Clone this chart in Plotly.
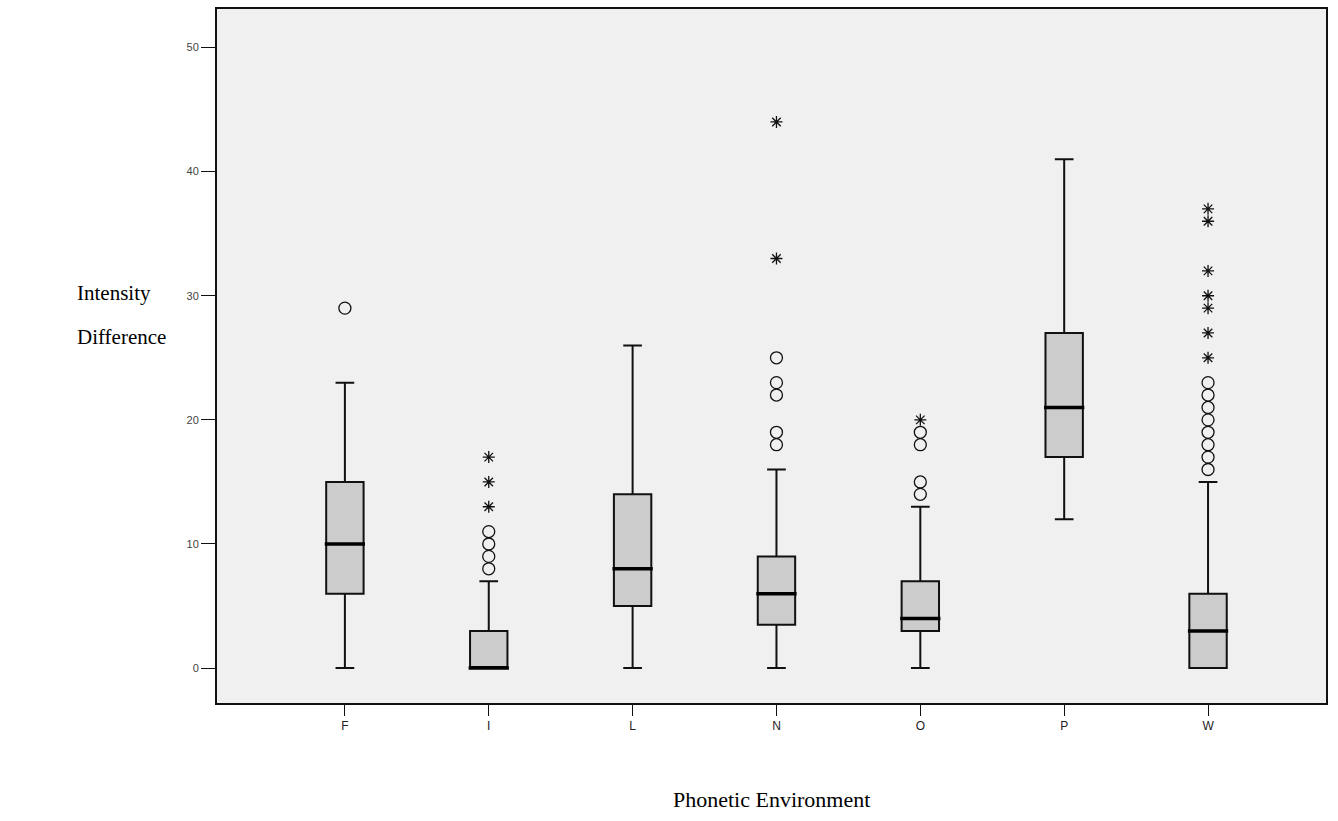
import plotly.graph_objects as go

categories = ["F", "I", "L", "N", "O", "P", "W"]
q1 = [6, 0, 5, 3.5, 3, 17, 0]
medians = [10, 0, 8, 6, 4, 21, 3]
q3 = [15, 3, 14, 9, 7, 27, 6]
lower_whisker = [0, 0, 0, 0, 0, 12, 0]
upper_whisker = [23, 7, 26, 16, 13, 41, 15]

# outliers (circles = mild, stars = extreme)
circle_F = [29]
circle_I = [8, 9, 10, 11]
circle_N = [18, 19, 22, 23, 25]
circle_O = [14, 15, 18, 19]
circle_W = [16, 17, 18, 19, 20, 21, 22, 23]
star_I = [13, 15, 17]
star_N = [33, 44]
star_O = [20]
star_W = [25, 27, 29, 30, 32, 36, 37]

y_ticks = [0, 10, 20, 30, 40, 50]

circles = [("F", circle_F), ("I", circle_I), ("N", circle_N), ("O", circle_O), ("W", circle_W)]
stars = [("I", star_I), ("N", star_N), ("O", star_O), ("W", star_W)]

BOX_W = 0.26

fig = go.Figure()
fig.add_trace(go.Box(
    x=categories, q1=q1, median=medians, q3=q3,
    lowerfence=lower_whisker, upperfence=upper_whisker,
    width=BOX_W, whiskerwidth=0.5,
    fillcolor="#cccccc", line=dict(color="#111111", width=2),
    boxpoints=False, showlegend=False, hoverinfo="skip",
))
# thicker median line
fig.add_trace(go.Box(
    x=categories, q1=medians, median=medians, q3=medians,
    lowerfence=medians, upperfence=medians,
    width=BOX_W + 0.02, whiskerwidth=0,
    fillcolor="rgba(0,0,0,0)", line=dict(color="#000000", width=3.5),
    boxpoints=False, showlegend=False, hoverinfo="skip",
))

cx, cy = [], []
for c, vals in circles:
    cx += [c] * len(vals)
    cy += vals
sx, sy = [], []
for c, vals in stars:
    sx += [c] * len(vals)
    sy += vals

fig.add_trace(go.Scatter(
    x=cx, y=cy, mode="markers",
    marker=dict(symbol="circle-open", size=12, color="#111111", line=dict(width=1.3)),
    showlegend=False, hoverinfo="skip",
))
fig.add_trace(go.Scatter(
    x=sx, y=sy, mode="markers",
    marker=dict(symbol="asterisk-open", size=10, color="#111111", line=dict(width=1.3)),
    showlegend=False, hoverinfo="skip",
))

PW = 1338 - 217 - 12
PH = 703 - 7

fig.update_layout(
    width=1338, height=821,
    margin=dict(l=217, r=12, t=7, b=118),
    paper_bgcolor="white", plot_bgcolor="#f0f0f0",
    boxmode="overlay",
    xaxis=dict(
        type="category", categoryorder="array", categoryarray=categories,
        range=[-0.889, 6.82],
        showline=True, linecolor="#111111", linewidth=2, mirror=True,
        ticks="outside", ticklen=11, tickwidth=1.3, tickcolor="#111111",
        showgrid=False, zeroline=False,
        tickfont=dict(family="Liberation Sans, Arial", size=12, color="#222222"),
    ),
    yaxis=dict(
        range=[-2.81, 53.1],
        tickvals=y_ticks, ticktext=[str(v) for v in y_ticks],
        showline=True, linecolor="#111111", linewidth=2, mirror=True,
        ticks="outside", ticklen=14, tickwidth=1.3, tickcolor="#111111",
        showgrid=False, zeroline=False,
        tickfont=dict(family="Liberation Sans, Arial", size=11, color="#444444"),
    ),
)

title_font = dict(family="Liberation Serif, Times New Roman", size=21, color="#000000")
fig.add_annotation(text="Intensity", xref="paper", yref="paper",
                   x=(75 - 217) / PW, y=(703 - 292) / PH,
                   xanchor="left", yanchor="middle", showarrow=False, font=title_font)
fig.add_annotation(text="Difference", xref="paper", yref="paper",
                   x=(75 - 217) / PW, y=(703 - 336) / PH,
                   xanchor="left", yanchor="middle", showarrow=False, font=title_font)
fig.add_annotation(text="Phonetic Environment", xref="paper", yref="paper",
                   x=(771 - 217) / PW, y=(703 - 800) / PH,
                   xanchor="center", yanchor="middle", showarrow=False,
                   font=dict(family="Liberation Serif, Times New Roman", size=22, color="#000000"))

fig.write_html("out.html")
